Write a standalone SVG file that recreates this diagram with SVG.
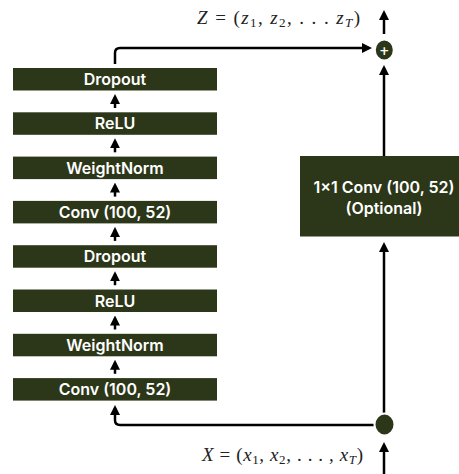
<svg xmlns="http://www.w3.org/2000/svg" width="459" height="474" viewBox="0 0 459 474">
<defs>
<style>
.box{fill:#2c3719;}
.lbl{font-family:Inter,"Liberation Sans",sans-serif;font-weight:600;font-size:16px;fill:#ffffff;text-anchor:middle;}
.con{fill:none;stroke:#000;stroke-width:2.5;}
.math{font-family:"Liberation Serif","DejaVu Serif",serif;font-size:19px;fill:#222;}
.it{font-style:italic;}
.sub{font-size:13px;}
</style>
<marker id="ah" viewBox="0 0 10 10" refX="7" refY="5" markerWidth="10" markerHeight="10" markerUnits="userSpaceOnUse" orient="auto">
<path d="M0,0 L10,5 L0,10 z" fill="#000"/>
</marker>
</defs>
<rect width="459" height="474" fill="#fff"/>
<g id="connectors">
<path class="con" marker-end="url(#ah)" d="M115,108 L115,97"/>
<path class="con" marker-end="url(#ah)" d="M115,152.3 L115,141.3"/>
<path class="con" marker-end="url(#ah)" d="M115,196.6 L115,185.6"/>
<path class="con" marker-end="url(#ah)" d="M115,240.9 L115,229.9"/>
<path class="con" marker-end="url(#ah)" d="M115,285.2 L115,274.2"/>
<path class="con" marker-end="url(#ah)" d="M115,329.5 L115,318.5"/>
<path class="con" marker-end="url(#ah)" d="M115,373.8 L115,362.8"/>
<path class="con" marker-end="url(#ah)" d="M115,64 L115,53 Q115,48 120,48 L369,48"/>
<path class="con" marker-end="url(#ah)" d="M384,34 L384,13"/>
<path class="con" marker-end="url(#ah)" d="M384,156 L384,68"/>
<path class="con" marker-end="url(#ah)" d="M384,413 L384,245"/>
<path class="con" marker-end="url(#ah)" d="M374,425 L120,425 Q115,425 115,420 L115,408"/>
<path class="con" marker-end="url(#ah)" d="M384,474 L384,445"/>
</g>
<g id="n_dropout2"><rect class="box" x="13" y="68" width="204" height="22.5"/><text class="lbl" x="115" y="85">Dropout</text></g>
<g id="n_relu2"><rect class="box" x="13" y="112.3" width="204" height="22.5"/><text class="lbl" x="115" y="129.3">ReLU</text></g>
<g id="n_wn2"><rect class="box" x="13" y="156.6" width="204" height="22.5"/><text class="lbl" x="115" y="173.6">WeightNorm</text></g>
<g id="n_conv2"><rect class="box" x="13" y="200.9" width="204" height="22.5"/><text class="lbl" x="115" y="217.9">Conv (100, 52)</text></g>
<g id="n_dropout1"><rect class="box" x="13" y="245.2" width="204" height="22.5"/><text class="lbl" x="115" y="262.2">Dropout</text></g>
<g id="n_relu1"><rect class="box" x="13" y="289.5" width="204" height="22.5"/><text class="lbl" x="115" y="306.5">ReLU</text></g>
<g id="n_wn1"><rect class="box" x="13" y="333.8" width="204" height="22.5"/><text class="lbl" x="115" y="350.8">WeightNorm</text></g>
<g id="n_conv1"><rect class="box" x="13" y="378.1" width="204" height="22.5"/><text class="lbl" x="115" y="395.1">Conv (100, 52)</text></g>
<g id="n_1x1"><rect class="box" x="300" y="156" width="160" height="80.5"/><text class="lbl" x="384" y="192.5">1×1 Conv (100, 52)</text><text class="lbl" x="384" y="214">(Optional)</text></g>
<g id="n_plus"><ellipse cx="384.3" cy="50" rx="9.5" ry="10.5" fill="#2c3719" stroke="#fff" stroke-width="2"/><text x="384.3" y="54.5" font-family="'DejaVu Sans',sans-serif" font-size="12" font-weight="700" fill="#fff" text-anchor="middle">+</text></g>
<g id="n_split"><ellipse cx="384.5" cy="424.5" rx="10" ry="11" fill="#2c3719" stroke="#fff" stroke-width="2"/></g>
<g id="t_z"><text class="math" x="197" y="24" textLength="163" lengthAdjust="spacing"><tspan class="it">Z</tspan> = (<tspan class="it">z</tspan><tspan class="sub" dy="3">1</tspan><tspan dy="-3">, </tspan><tspan class="it">z</tspan><tspan class="sub" dy="3">2</tspan><tspan dy="-3">, . . . </tspan><tspan class="it">z</tspan><tspan class="sub it" dy="3">T</tspan><tspan dy="-3">)</tspan></text></g>
<g id="t_x"><text class="math" x="202" y="461" textLength="161" lengthAdjust="spacing"><tspan class="it">X</tspan> = (<tspan class="it">x</tspan><tspan class="sub" dy="3">1</tspan><tspan dy="-3">, </tspan><tspan class="it">x</tspan><tspan class="sub" dy="3">2</tspan><tspan dy="-3">, . . . , </tspan><tspan class="it">x</tspan><tspan class="sub it" dy="3">T</tspan><tspan dy="-3">)</tspan></text></g>
</svg>
